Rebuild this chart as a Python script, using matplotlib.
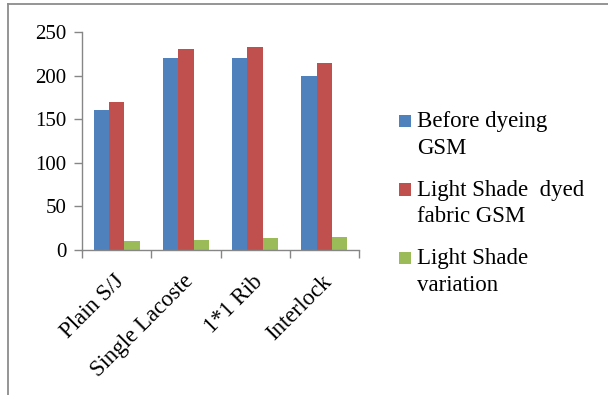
import matplotlib
matplotlib.use("Agg")
import matplotlib.pyplot as plt
from matplotlib.lines import Line2D
from matplotlib.patches import Rectangle
import numpy as np

categories = ["Plain S/J", "Single Lacoste", "1*1 Rib", "Interlock"]
before_gsm = [160, 220, 220, 200]
dyed_gsm = [170, 230, 233, 215]
shade_variation = [10, 11, 14, 15]
series_labels = ["Before dyeing\nGSM", "Light Shade  dyed\nfabric GSM", "Light Shade\nvariation"]
colors = ["#4F81BD", "#C0504D", "#9BBB59"]
yticks = [0, 50, 100, 150, 200, 250]

plt.rcParams["font.family"] = ["Liberation Serif", "DejaVu Serif"]
axis_grey = "#868686"
W, H = 608, 395

fig = plt.figure(figsize=(W / 100, H / 100), dpi=100)
ax = fig.add_axes([82 / W, 1 - 250 / H, (359 - 82) / W, (250 - 32) / H])

x = np.arange(len(categories))
w = 0.222
for i, (vals, col) in enumerate(zip([before_gsm, dyed_gsm, shade_variation], colors)):
    ax.bar(x + (i - 1) * w, vals, width=w, color=col, edgecolor="none")

ax.set_xlim(-0.5, len(categories) - 0.5)
ax.set_ylim(0, 250)
ax.set_yticks(yticks)
ax.set_yticklabels([str(v) for v in yticks], fontsize=15)
ax.set_xticks(x - 0.04)
ax.set_xticklabels(categories, fontsize=16.5, rotation=45, ha="right", va="top", rotation_mode="anchor")
ax.set_xticks(np.arange(-0.5, len(categories)), minor=True)
ax.tick_params(axis="x", which="major", length=0, pad=15)
ax.tick_params(axis="x", which="minor", length=6, color=axis_grey, width=1)
ax.tick_params(axis="y", length=6, color=axis_grey, width=1, pad=5)

for side in ["top", "right"]:
    ax.spines[side].set_visible(False)
for side in ["left", "bottom"]:
    ax.spines[side].set_color(axis_grey)
    ax.spines[side].set_linewidth(1)

# legend: square key beside the first line of each two-line label
line_gap = 26
for k, (lab, col) in enumerate(zip(series_labels, colors)):
    base = 128 + k * 68.5
    fig.add_artist(Rectangle((399 / W, 1 - (base - 1) / H), 12 / W, 12 / H,
                             transform=fig.transFigure, color=col, lw=0))
    fig.text(417 / W, 1 - (base + line_gap) / H, lab, fontsize=16.5, va="baseline", ha="left",
             linespacing=1.35)

# chart border (top and left edges)
fig.add_artist(Line2D([8 / W, 1], [1 - 4 / H, 1 - 4 / H], transform=fig.transFigure,
                      color="#8c8c8c", linewidth=1.3))
fig.add_artist(Line2D([8 / W, 8 / W], [0, 1 - 4 / H], transform=fig.transFigure,
                      color="#8c8c8c", linewidth=1.3))

fig.savefig("out.png", dpi=100)
